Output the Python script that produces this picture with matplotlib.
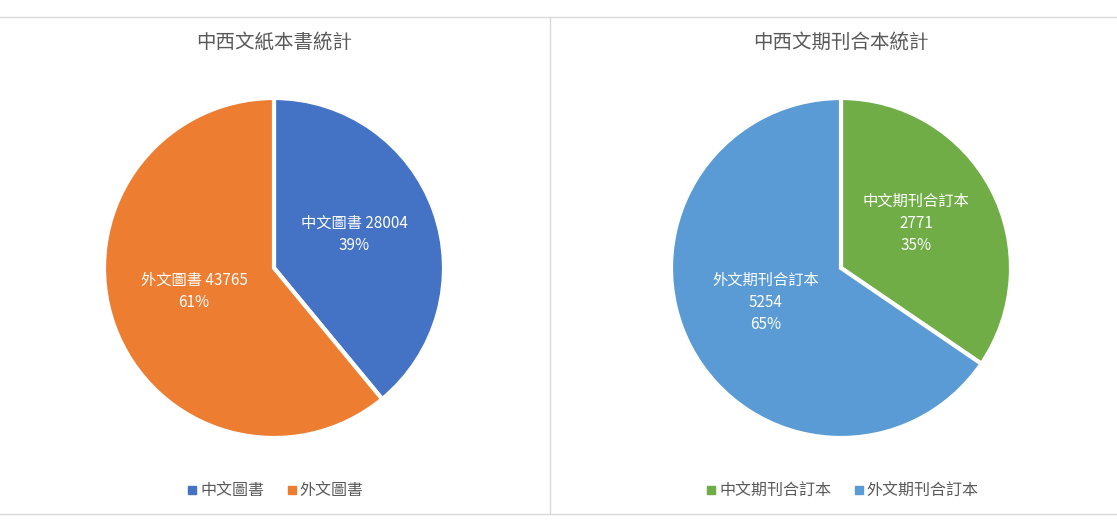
import numpy as np
import matplotlib
matplotlib.use('Agg')
import matplotlib.pyplot as plt
from matplotlib.lines import Line2D

plt.rcParams['font.family'] = ['Noto Sans CJK TC', 'DejaVu Sans']

# --- 資料 ---
book_names = ['中文圖書', '外文圖書']
book_values = [28004, 43765]
book_colors = ['#4472C4', '#ED7D31']

jour_names = ['中文期刊合訂本', '外文期刊合訂本']
jour_values = [2771, 5254]
jour_colors = ['#70AD47', '#5B9BD5']

W, H = 1117, 532
fig = plt.figure(figsize=(W / 100, H / 100), dpi=100)
TXT = '#595959'
GRID = '#D9D9D9'

def draw_pie(cx, title, names, values, colors, one_line):
    cy, r = 268, 170
    ax = fig.add_axes([(cx - r) / W, (H - cy - r) / H, 2 * r / W, 2 * r / H])
    wedges, _ = ax.pie(values, colors=colors, startangle=90, counterclock=False,
                       wedgeprops=dict(edgecolor='white', linewidth=3))
    ax.set_xlim(-1, 1)
    ax.set_ylim(-1, 1)
    ax.set_aspect('equal')
    total = sum(values)
    for w, n, v in zip(wedges, names, values):
        ang = np.deg2rad((w.theta1 + w.theta2) / 2)
        pct = f"{v / total * 100:.0f}%"
        txt = f"{n} {v}\n{pct}" if one_line else f"{n}\n{v}\n{pct}"
        ax.text(0.5 * np.cos(ang), 0.5 * np.sin(ang) + 0.03, txt, ha='center', va='center',
                color='white', fontsize=11, linespacing=1.4)
    fig.text(cx / W, 1 - 42 / H, title, ha='center', va='center', color=TXT, fontsize=14)
    handles = [Line2D([], [], marker='s', linestyle='none', color=c, markersize=5.5) for c in colors]
    fig.legend(handles, names, loc='center', bbox_to_anchor=(cx / W, 1 - 491 / H), ncol=2,
               frameon=False, fontsize=11.5, labelcolor=TXT, handletextpad=0.0,
               columnspacing=1.2, handlelength=1.0)

draw_pie(274, '中西文紙本書統計', book_names, book_values, book_colors, True)
draw_pie(841, '中西文期刊合本統計', jour_names, jour_values, jour_colors, False)

# 外框線
fig.add_artist(Line2D([0, 1], [1 - 17 / H, 1 - 17 / H], color=GRID, lw=1))
fig.add_artist(Line2D([0, 1], [1 - 514 / H, 1 - 514 / H], color=GRID, lw=1))
fig.add_artist(Line2D([550 / W, 550 / W], [1 - 514 / H, 1 - 17 / H], color=GRID, lw=1))

fig.savefig('out.png', dpi=100, facecolor='white')
